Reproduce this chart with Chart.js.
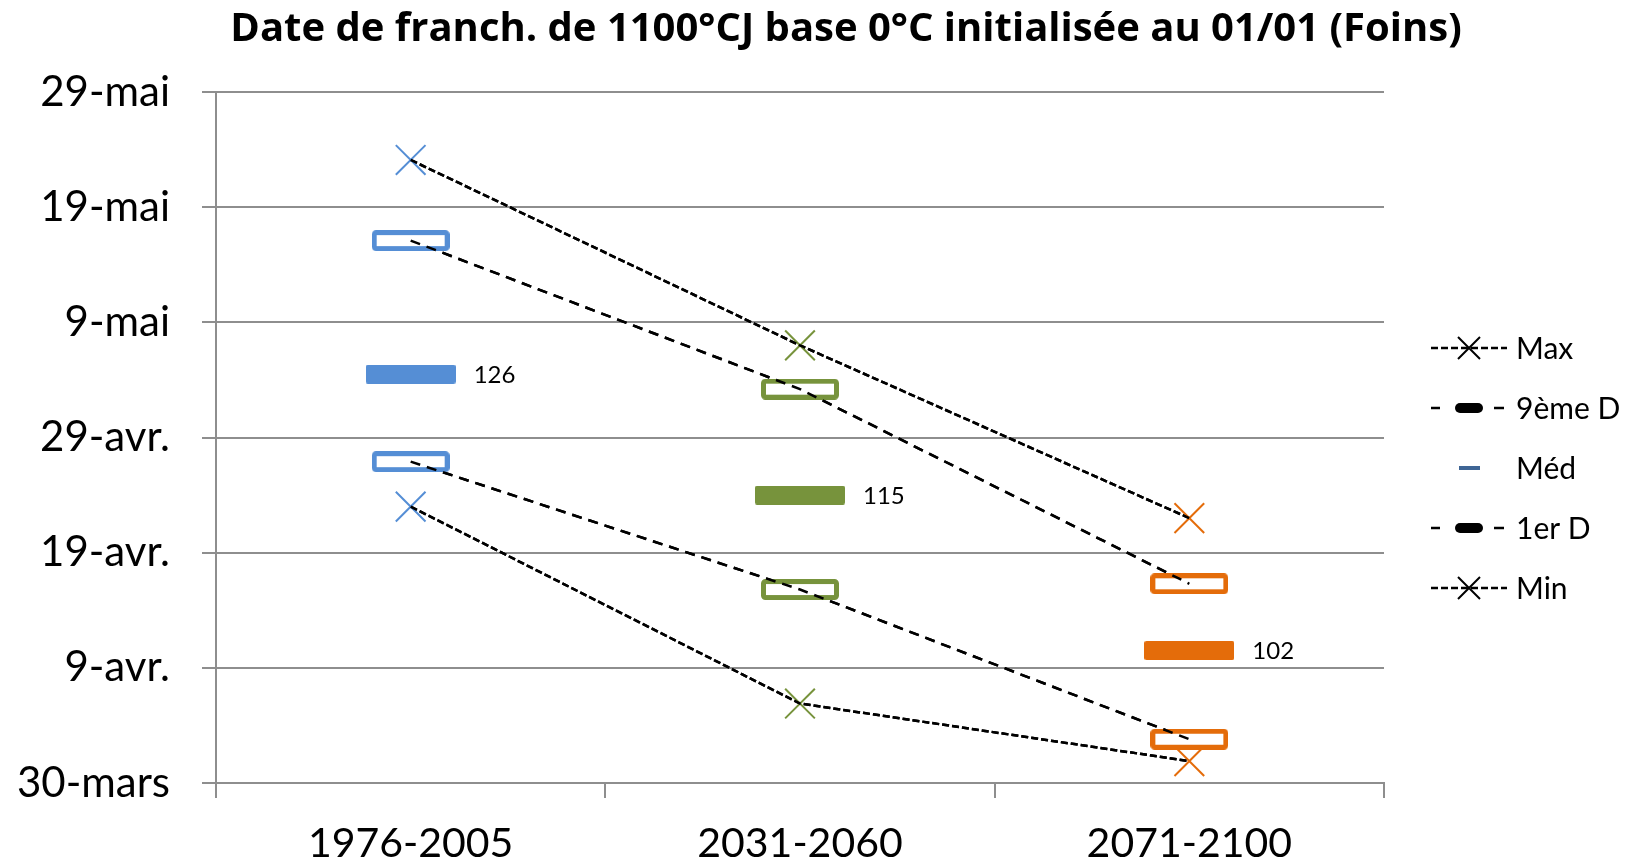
<!DOCTYPE html>
<html>
<head>
<meta charset="utf-8">
<script src="https://cdn.jsdelivr.net/npm/chart.js@4/dist/chart.umd.min.js"></script>
<style>
  html, body { margin: 0; padding: 0; background: #fff; }
  #wrap { width: 1635px; height: 866px; position: relative; }
</style>
</head>
<body>
<div id="wrap"><canvas id="chart"></canvas></div>
<script>
// periods and values (day of year, 30-mars = 90)
const categories = ["1976-2005", "2031-2060", "2071-2100"];
const maxValues = [144.1, 128.0, 113.0];
const d9Values = [137.1, 124.2, 107.3];
const medValues = [125.5, 115.0, 101.5];
const d1Values = [117.9, 106.8, 93.8];
const minValues = [114.0, 96.9, 91.9];

const tickValues = [90, 100, 110, 120, 130, 140, 150];
const tickLabels = ["30-mars", "9-avr.", "19-avr.", "29-avr.", "9-mai", "19-mai", "29-mai"];

const periodColors = ["#558ED5", "#77933C", "#E46C0A"];
const FONT = "Lato, 'Open Sans', sans-serif";

/* ---------- marker images ---------- */
function makeBox(color, w, h, lw, filled) {
  const c = document.createElement("canvas");
  c.width = w + lw;
  c.height = h + lw;
  const x = c.getContext("2d");
  x.beginPath();
  x.roundRect(lw / 2, lw / 2, w, h, 2);
  if (filled) {
    x.fillStyle = color;
    x.fill();
  } else {
    x.fillStyle = "#ffffff";
    x.fill();
    x.lineWidth = lw;
    x.strokeStyle = color;
    x.stroke();
  }
  return c;
}

const hollowBoxes = periodColors.map((c) => makeBox(c, 73, 16, 5, false));
const medBars = periodColors.map((c) => makeBox(c, 90, 19, 0, true));

/* ---------- plugins ---------- */
const titlePlugin = {
  id: "customTitle",
  afterDraw(chart) {
    const ctx = chart.ctx;
    ctx.save();
    ctx.font = "bold 40px 'Open Sans', sans-serif";
    ctx.fillStyle = "#000";
    ctx.textAlign = "center";
    ctx.textBaseline = "alphabetic";
    ctx.fillText("Date de franch. de 1100°CJ base 0°C initialisée au 01/01 (Foins)", 846, 41);
    ctx.restore();
  },
};

// redraw lines above markers, like the original
const linesOnTop = {
  id: "linesOnTop",
  afterDatasetsDraw(chart) {
    const ctx = chart.ctx;
    chart.data.datasets.forEach((ds, i) => {
      if (ds.showLine === false) return;
      const meta = chart.getDatasetMeta(i);
      ctx.save();
      meta.dataset.draw(ctx, chart.chartArea);
      ctx.restore();
    });
  },
};

const medLabels = {
  id: "medLabels",
  afterDatasetsDraw(chart) {
    const ctx = chart.ctx;
    chart.data.datasets.forEach((ds, i) => {
      if (!ds.valueLabels) return;
      const meta = chart.getDatasetMeta(i);
      ctx.save();
      ctx.font = "24px " + FONT;
      ctx.fillStyle = "#000";
      ctx.textAlign = "left";
      ctx.textBaseline = "middle";
      meta.data.forEach((pt, j) => {
        ctx.fillText(String(Math.round(ds.data[j])), pt.x + 63, pt.y + 1);
      });
      ctx.restore();
    });
  },
};

const sideLegend = {
  id: "sideLegend",
  afterDraw(chart) {
    const ctx = chart.ctx;
    const x0 = 1431, x1 = 1507, xm = 1469, tx = 1516;
    chart.data.datasets.forEach((ds, i) => {
      const y = 348 + i * 60;
      ctx.save();
      ctx.strokeStyle = "#000";
      ctx.lineWidth = 2.5;
      if (ds.legendMarker === "x") {
        ctx.setLineDash([7, 3]);
        ctx.beginPath();
        ctx.moveTo(x0, y);
        ctx.lineTo(x1, y);
        ctx.stroke();
        ctx.setLineDash([]);
        ctx.lineWidth = 2;
        ctx.beginPath();
        ctx.moveTo(xm - 11, y - 11); ctx.lineTo(xm + 11, y + 11);
        ctx.moveTo(xm + 11, y - 11); ctx.lineTo(xm - 11, y + 11);
        ctx.stroke();
      } else if (ds.legendMarker === "pill") {
        ctx.beginPath();
        ctx.moveTo(x0, y); ctx.lineTo(x0 + 9, y);
        ctx.moveTo(x1 - 13, y); ctx.lineTo(x1 - 3, y);
        ctx.stroke();
        ctx.fillStyle = "#000";
        ctx.beginPath();
        ctx.roundRect(xm - 14, y - 5, 28, 10, 5);
        ctx.fill();
      } else if (ds.legendMarker === "bar") {
        ctx.fillStyle = "#3E6595";
        ctx.fillRect(xm - 10, y - 2, 21, 4);
      }
      ctx.font = "30px " + FONT;
      ctx.fillStyle = "#000";
      ctx.textAlign = "left";
      ctx.textBaseline = "middle";
      ctx.fillText(ds.label, tx, y + 1);
      ctx.restore();
    });
  },
};

/* ---------- chart ---------- */
const GRID = "#8E8E8E";

new Chart(document.getElementById("chart"), {
  type: "line",
  data: {
    labels: categories,
    datasets: [
      {
        label: "Max",
        data: maxValues,
        legendMarker: "x",
        borderColor: "#000",
        borderWidth: 2.5,
        borderDash: [7, 3],
        pointStyle: "crossRot",
        pointRadius: 21,
        pointBorderWidth: 2,
        pointBorderColor: periodColors,
        pointBackgroundColor: periodColors,
      },
      {
        label: "9ème D",
        data: d9Values,
        legendMarker: "pill",
        borderColor: "#000",
        borderWidth: 2.5,
        borderDash: [10, 7],
        pointStyle: hollowBoxes,
        pointRadius: 10,
      },
      {
        label: "Méd",
        data: medValues,
        legendMarker: "bar",
        valueLabels: true,
        showLine: false,
        pointStyle: medBars,
        pointRadius: 10,
      },
      {
        label: "1er D",
        data: d1Values,
        legendMarker: "pill",
        borderColor: "#000",
        borderWidth: 2.5,
        borderDash: [10, 7],
        pointStyle: hollowBoxes,
        pointRadius: 10,
      },
      {
        label: "Min",
        data: minValues,
        legendMarker: "x",
        borderColor: "#000",
        borderWidth: 2.5,
        borderDash: [7, 3],
        pointStyle: "crossRot",
        pointRadius: 21,
        pointBorderWidth: 2,
        pointBorderColor: periodColors,
        pointBackgroundColor: periodColors,
      },
    ],
  },
  options: {
    responsive: true,
    maintainAspectRatio: false,
    animation: false,
    events: [],
    layout: { padding: { top: 92, right: 251, left: 0, bottom: 0 } },
    plugins: {
      legend: { display: false },
      title: { display: false },
      tooltip: { enabled: false },
    },
    elements: { line: { tension: 0 } },
    scales: {
      x: {
        offset: true,
        grid: {
          offset: true,
          drawOnChartArea: false,
          drawTicks: true,
          tickLength: 15,
          color: GRID,
          lineWidth: 2,
        },
        border: { color: GRID, width: 2 },
        ticks: {
          color: "#000",
          padding: 21,
          font: { family: FONT, size: 41 },
        },
        afterFit(scale) { scale.height = 83; },
      },
      y: {
        min: 90,
        max: 150,
        afterBuildTicks(scale) {
          scale.ticks = tickValues.map((v) => ({ value: v }));
        },
        grid: {
          color: GRID,
          lineWidth: 2,
          drawTicks: true,
          tickLength: 14,
        },
        border: { color: GRID, width: 2 },
        ticks: {
          color: "#000",
          padding: 32,
          font: { family: FONT, size: 42 },
          callback(value) {
            const k = tickValues.indexOf(value);
            return k >= 0 ? tickLabels[k] : "";
          },
        },
        afterFit(scale) { scale.width = 216; },
      },
    },
  },
  plugins: [titlePlugin, linesOnTop, medLabels, sideLegend],
});
</script>
</body>
</html>
